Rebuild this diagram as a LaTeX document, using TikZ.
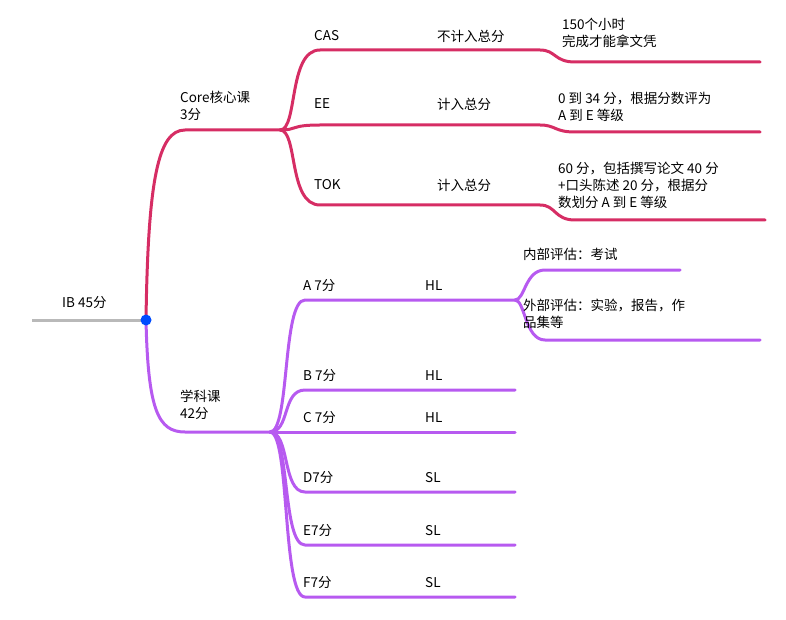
\documentclass[tikz,border=0pt]{standalone}
\usepackage{fontspec}
\setmainfont{Noto Sans CJK SC}
\begin{document}
\begin{tikzpicture}[x=1pt,y=-1pt,
  lbl/.style={font=\fontsize{13.5}{17}\selectfont,anchor=west,inner sep=0pt,align=left}]
\useasboundingbox (0,0) rectangle (786,620);
\definecolor{cc}{RGB}{214,45,100}
\definecolor{sc}{RGB}{183,90,240}
\tikzset{core/.style={draw=cc,line width=3pt,line cap=round},
 subj/.style={draw=sc,line width=3pt,line cap=round}}
\coordinate (root) at (146,320);
\coordinate (cj) at (280,130);
\coordinate (sj) at (270,432);
\coordinate (aj) at (515,300);
% root
\draw[gray!55,line width=3pt] (32,320) -- (root);
\node[lbl] (ib) at (62,303) {IB 45分};
% core
\draw[core] (root) .. controls (148,180) and (158,130) .. (185,130) -- (cj);
\node[lbl] (core) at (180,106) {Core核心课\\3分};
\draw[core] (cj) .. controls (298,130) and (288,50) .. (320,50) -- (540,50) .. controls (556,50) and (554,62) .. (575,62) -- (760,62);
\draw[core] (cj) .. controls (298,130) and (290,125) .. (320,125) -- (540,125) .. controls (556,125) and (554,132) .. (575,132) -- (760,132);
\draw[core] (cj) .. controls (298,130) and (288,205) .. (320,205) -- (540,205) .. controls (556,205) and (554,220) .. (575,220) -- (765,220);
\node[lbl] (cas) at (314,36) {CAS};
\node[lbl] (cas2) at (437,36) {不计入总分};
\node[lbl] (ee) at (314,104) {EE};
\node[lbl] (ee2) at (437,104) {计入总分};
\node[lbl] (tok) at (314,185) {TOK};
\node[lbl] (tok2) at (437,185) {计入总分};
\node[lbl] (t1) at (562,33) {150个小时\\ 完成才能拿文凭};
\node[lbl] (t2) at (558,107) {0 到 34 分，根据分数评为\\A 到 E 等级};
\node[lbl] (t3) at (558,185) {60 分，包括撰写论文 40 分\\+口头陈述 20 分，根据分\\数划分 A 到 E 等级};
% subjects
\draw[subj] (root) .. controls (148,410) and (158,432) .. (185,432) -- (sj);
\node[lbl] (sub) at (180,405) {学科课\\42分};
\foreach \y/\n/\l in {300/A 7分/HL,390/B 7分/HL,432/C 7分/HL,492/D7分/SL,545/E7分/SL,597/F7分/SL}{
  \draw[subj] (sj) .. controls (290,432) and (282,\y) .. (305,\y) -- (515,\y);
  \node[lbl] at (303,\y-14) {\n};
  \node[lbl] at (425,\y-14) {\l};
}
\draw[subj] (aj) .. controls (525,300) and (525,270) .. (545,270) -- (680,270);
\draw[subj] (aj) .. controls (525,300) and (525,340) .. (545,340) -- (760,340);
\node[lbl] (in) at (523,254) {内部评估：考试};
\node[lbl] (out) at (523,314) {外部评估：实验，报告，作\\品集等};
\fill[blue!70!cyan] (root) circle (5.5);
\end{tikzpicture}
\end{document}
